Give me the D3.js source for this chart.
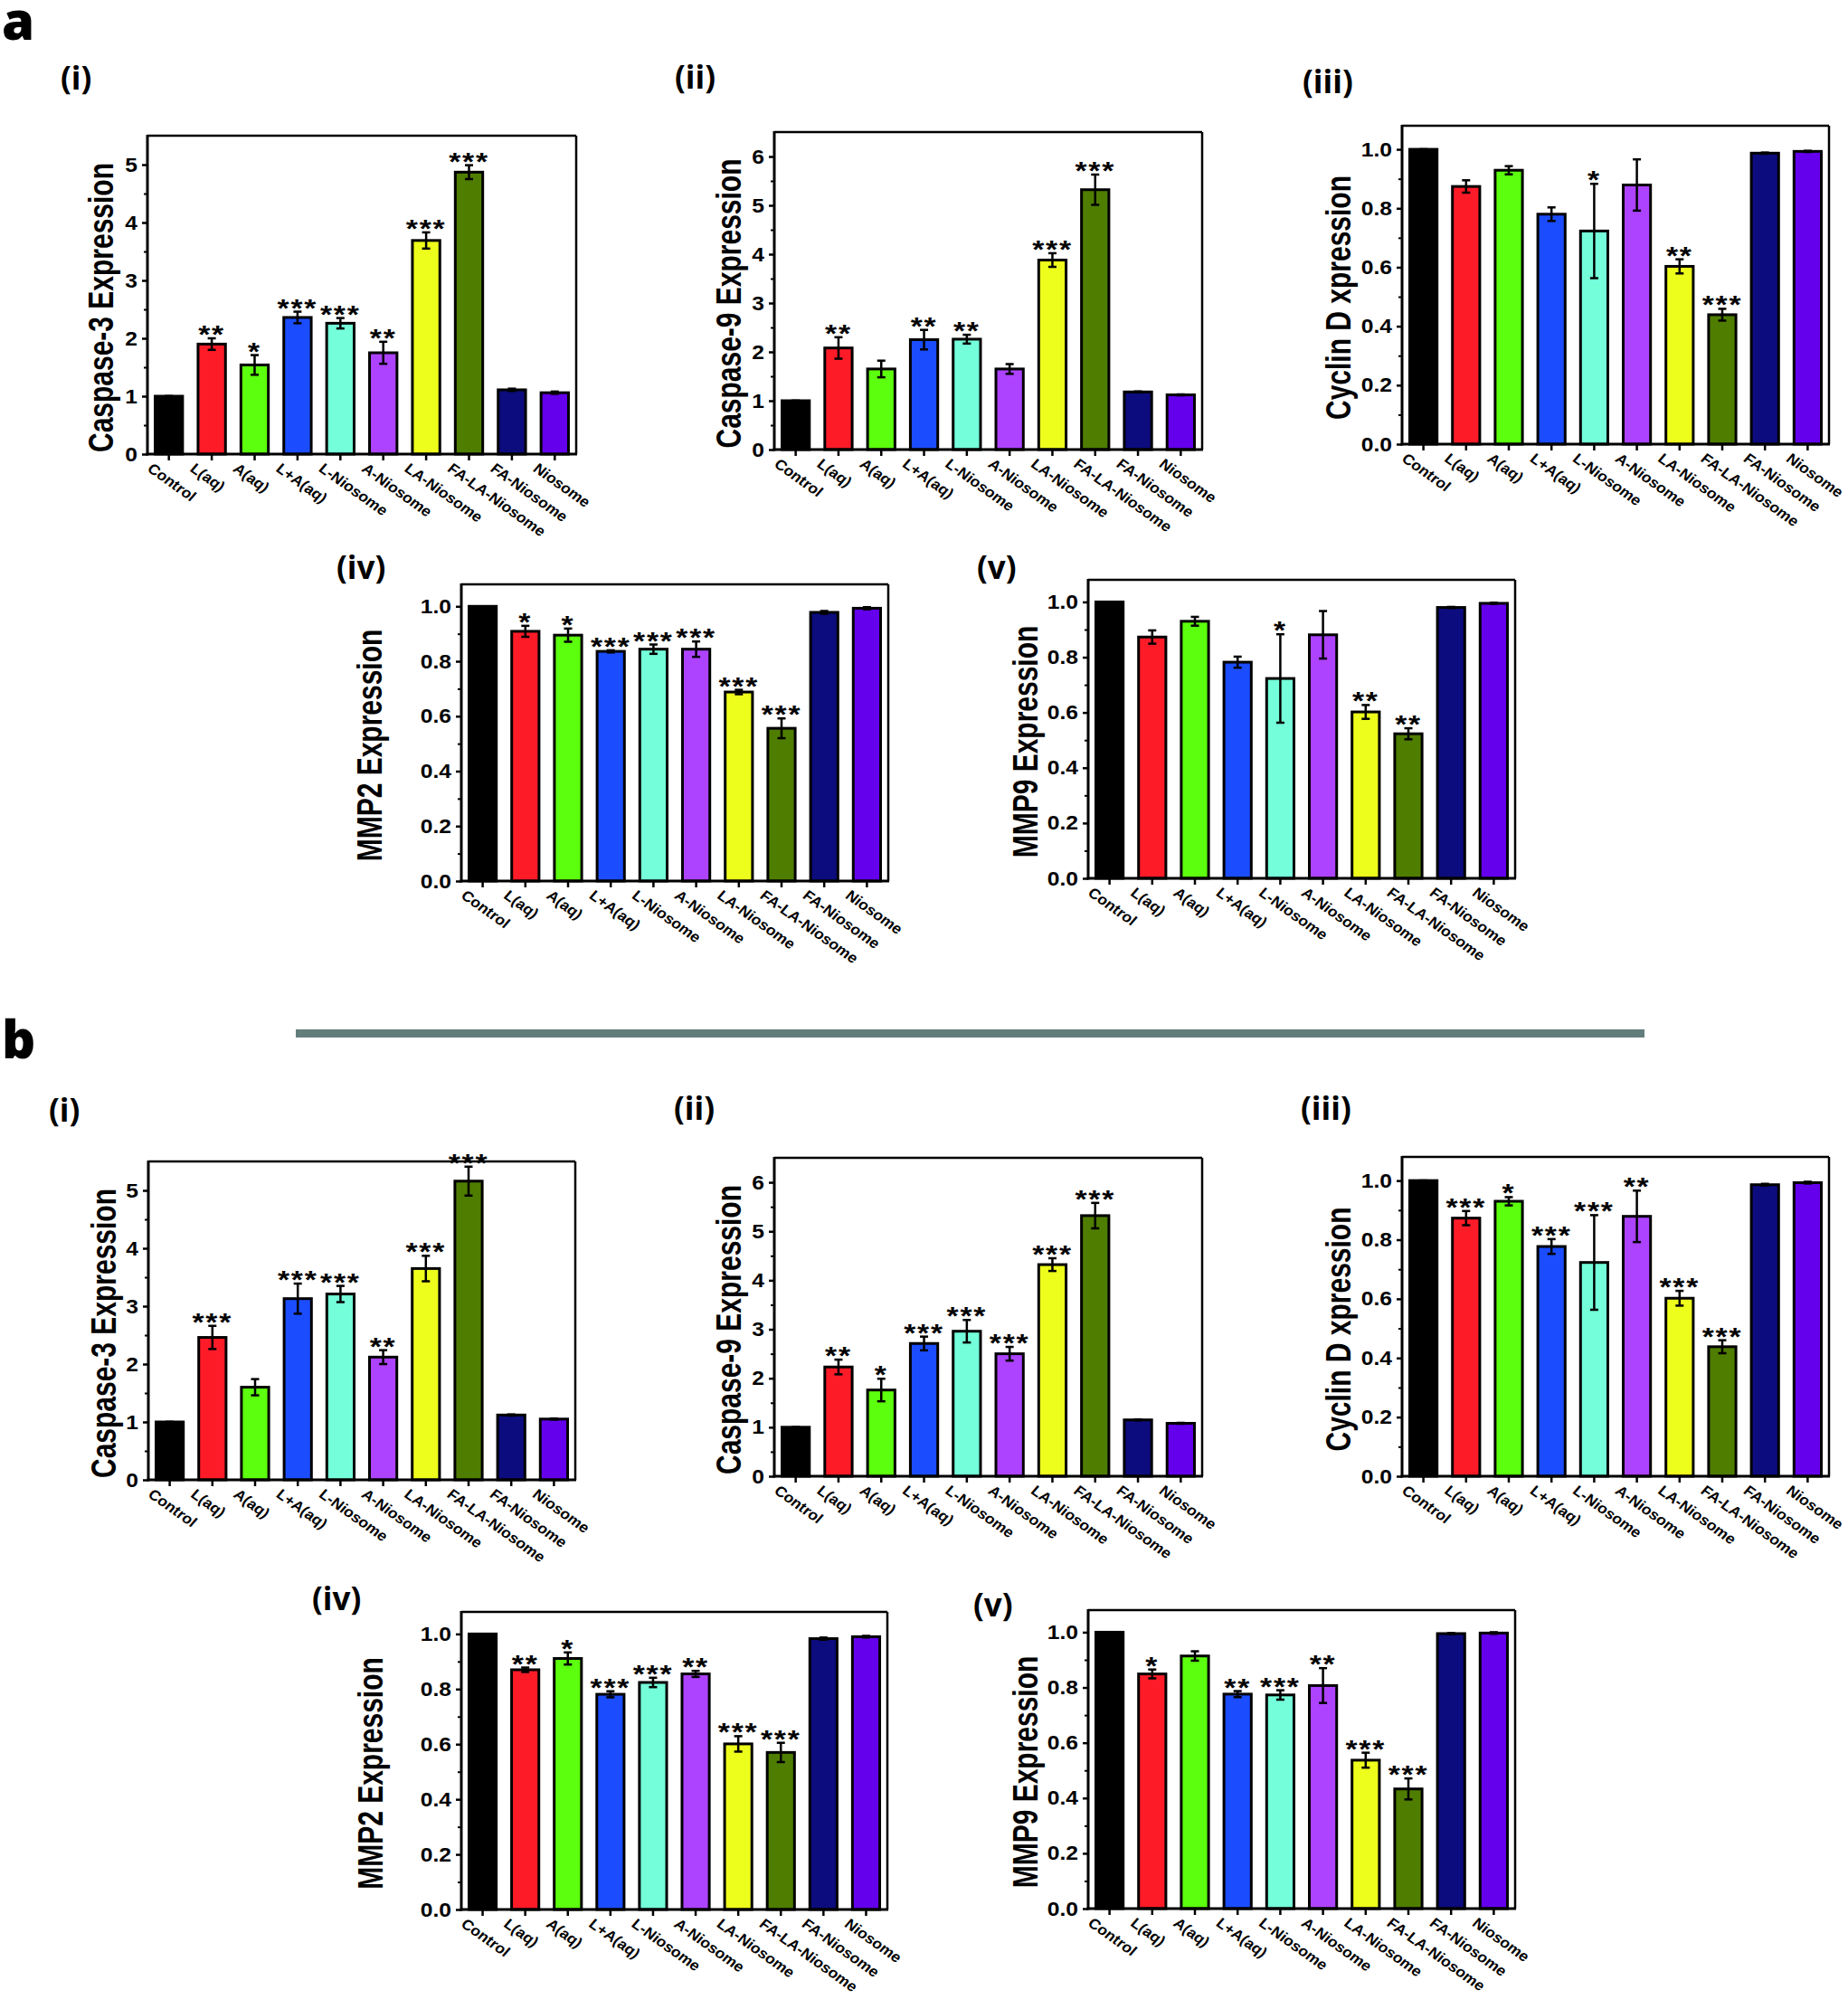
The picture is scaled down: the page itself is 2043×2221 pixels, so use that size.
<!DOCTYPE html>
<html>
<head>
<meta charset="utf-8">
<script src="https://cdn.jsdelivr.net/npm/d3@7"></script>
<style>
  html, body { margin: 0; padding: 0; background: #fff; }
  svg { display: block; }
</style>
</head>
<body>
<script>
// ---------------- DATA ----------------
const categories = ["Control","L(aq)","A(aq)","L+A(aq)","L-Niosome","A-Niosome","LA-Niosome","FA-LA-Niosome","FA-Niosome","Niosome"];
const barColors = ["#000000","#fe1b28","#5cff0d","#1b4dff","#74ffda","#ad43ff","#eefe1c","#4f7d00","#0c0c7e","#6400ec"];

const casp3Ticks = [0,1,2,3,4,5];
const casp3Minor = [0.5,1.5,2.5,3.5,4.5,5.5];
const casp9Ticks = [0,1,2,3,4,5,6];
const casp9Minor = [0.5,1.5,2.5,3.5,4.5,5.5,6.5];
const fracTicks = [0,0.2,0.4,0.6,0.8,1.0];
const fracMinor = [0.1,0.3,0.5,0.7,0.9];

// (a) panels
const aCasp3Mean = [1.00, 1.90, 1.54, 2.36, 2.26, 1.75, 3.69, 4.87, 1.11, 1.06];
const aCasp3Err  = [0, 0.10, 0.17, 0.10, 0.09, 0.19, 0.14, 0.12, 0.02, 0.02];
const aCasp3Sig  = ["", "**", "*", "***", "***", "**", "***", "***", "", ""];

const aCasp9Mean = [1.00, 2.08, 1.65, 2.25, 2.26, 1.65, 3.88, 5.32, 1.18, 1.12];
const aCasp9Err  = [0, 0.22, 0.17, 0.20, 0.09, 0.10, 0.14, 0.31, 0.01, 0.01];
const aCasp9Sig  = ["", "**", "", "**", "**", "", "***", "***", "", ""];

const aCycMean = [1.00, 0.874, 0.929, 0.780, 0.723, 0.879, 0.603, 0.439, 0.987, 0.993];
const aCycErr  = [0, 0.021, 0.014, 0.023, 0.16, 0.087, 0.024, 0.020, 0.002, 0.002];
const aCycSig  = ["", "", "", "", "*", "", "**", "***", "", ""];

const aMmp2Mean = [1.00, 0.909, 0.895, 0.836, 0.844, 0.844, 0.688, 0.556, 0.978, 0.993];
const aMmp2Err  = [0, 0.020, 0.024, 0.004, 0.017, 0.028, 0.008, 0.036, 0.005, 0.004];
const aMmp2Sig  = ["", "*", "*", "***", "***", "***", "***", "***", "", ""];

const aMmp9Mean = [1.00, 0.873, 0.930, 0.782, 0.723, 0.881, 0.602, 0.523, 0.980, 0.995];
const aMmp9Err  = [0, 0.024, 0.016, 0.020, 0.16, 0.086, 0.025, 0.020, 0.002, 0.002];
const aMmp9Sig  = ["", "", "", "", "*", "", "**", "**", "", ""];

// (b) panels
const bCasp3Mean = [1.00, 2.46, 1.60, 3.13, 3.21, 2.12, 3.65, 5.16, 1.12, 1.05];
const bCasp3Err  = [0, 0.20, 0.14, 0.26, 0.14, 0.12, 0.22, 0.25, 0.01, 0.01];
const bCasp3Sig  = ["", "***", "", "***", "***", "**", "***", "***", "", ""];

const bCasp9Mean = [1.00, 2.23, 1.76, 2.71, 2.96, 2.50, 4.32, 5.32, 1.15, 1.08];
const bCasp9Err  = [0, 0.15, 0.23, 0.14, 0.23, 0.14, 0.13, 0.26, 0.01, 0.01];
const bCasp9Sig  = ["", "**", "*", "***", "***", "***", "***", "***", "", ""];

const bCycMean = [1.00, 0.873, 0.930, 0.777, 0.723, 0.879, 0.602, 0.438, 0.986, 0.993];
const bCycErr  = [0, 0.024, 0.014, 0.025, 0.16, 0.087, 0.025, 0.022, 0.003, 0.003];
const bCycSig  = ["", "***", "*", "***", "***", "**", "***", "***", "", ""];

const bMmp2Mean = [1.00, 0.870, 0.911, 0.781, 0.824, 0.855, 0.601, 0.570, 0.983, 0.990];
const bMmp2Err  = [0, 0.008, 0.022, 0.011, 0.017, 0.011, 0.028, 0.035, 0.004, 0.003];
const bMmp2Sig  = ["", "**", "*", "***", "***", "**", "***", "***", "", ""];

const bMmp9Mean = [1.00, 0.849, 0.914, 0.776, 0.773, 0.807, 0.537, 0.433, 0.995, 0.997];
const bMmp9Err  = [0, 0.016, 0.017, 0.011, 0.017, 0.063, 0.027, 0.038, 0.002, 0.003];
const bMmp9Sig  = ["", "*", "", "**", "***", "**", "***", "***", "", ""];

// ---------------- LAYOUT ----------------
const W = 2043, H = 2221;
const svg = d3.select("body").append("svg").attr("width", W).attr("height", H)
  .style("font-family", "'Liberation Sans', Arial, sans-serif");
svg.append("rect").attr("width", W).attr("height", H).attr("fill", "#fff");

const FONT = "'Liberation Sans', Arial, sans-serif";

function drawPanel(p) {
  const g = svg.append("g");
  const x = d3.scaleBand().domain(categories).range([p.x0, p.x1]).paddingInner(0.36).paddingOuter(0.18);
  const y = d3.scaleLinear().domain([0, p.yMax]).range([p.y1, p.y0]);

  // bars
  g.selectAll("rect.bar").data(categories).join("rect").attr("class", "bar")
    .attr("x", d => x(d)).attr("width", x.bandwidth())
    .attr("y", (d, i) => y(p.mean[i])).attr("height", (d, i) => y(0) - y(p.mean[i]))
    .attr("fill", (d, i) => barColors[i]).attr("stroke", "#000").attr("stroke-width", 3);

  // error bars
  const cx = d => x(d) + x.bandwidth() / 2;
  const eb = g.selectAll("g.err").data(categories).join("g").attr("class", "err")
    .attr("stroke", "#000").attr("stroke-width", 2.5);
  eb.append("line").attr("x1", cx).attr("x2", cx)
    .attr("y1", (d, i) => y(p.mean[i] + p.err[i])).attr("y2", (d, i) => y(p.mean[i] - p.err[i]));
  eb.append("line").attr("x1", d => cx(d) - 4.5).attr("x2", d => cx(d) + 4.5)
    .attr("y1", (d, i) => y(p.mean[i] + p.err[i])).attr("y2", (d, i) => y(p.mean[i] + p.err[i]));
  eb.append("line").attr("x1", d => cx(d) - 4.5).attr("x2", d => cx(d) + 4.5)
    .attr("y1", (d, i) => y(p.mean[i] - p.err[i])).attr("y2", (d, i) => y(p.mean[i] - p.err[i]));

  // significance stars
  g.selectAll("text.sig").data(categories).join("text").attr("class", "sig")
    .attr("transform", (d, i) => `translate(${cx(d)},${y(p.mean[i] + p.err[i]) + 5}) scale(1.2,1)`)
    .attr("text-anchor", "middle").attr("font-size", 28).attr("font-weight", "bold")
    .attr("letter-spacing", 1.5)
    .text((d, i) => p.sig[i]);

  // y axis (major)
  const ya = g.append("g").attr("transform", `translate(${p.x0},0)`)
    .call(d3.axisLeft(y).tickValues(p.ticks).tickFormat(p.fmt).tickSize(6).tickSizeOuter(0).tickPadding(4));
  ya.select(".domain").remove();
  ya.selectAll(".tick line").attr("stroke", "#000").attr("stroke-width", 2.5);
  ya.selectAll(".tick text").attr("x", -11 / 1.12).attr("transform", "scale(1.12,1)")
    .attr("font-size", 22).attr("font-weight", "bold").attr("fill", "#000")
    .attr("font-family", FONT);
  // y axis (minor)
  const ym = g.append("g").attr("transform", `translate(${p.x0},0)`)
    .call(d3.axisLeft(y).tickValues(p.minor.filter(v => v < p.yMax)).tickFormat("").tickSize(4).tickSizeOuter(0));
  ym.select(".domain").remove();
  ym.selectAll(".tick line").attr("stroke", "#000").attr("stroke-width", 2);

  // x axis
  const xa = g.append("g").attr("transform", `translate(0,${p.y1})`)
    .call(d3.axisBottom(x).tickSize(7).tickSizeOuter(0).tickPadding(0));
  xa.select(".domain").remove();
  xa.selectAll(".tick line").attr("stroke", "#000").attr("stroke-width", 2.5);
  xa.selectAll(".tick text").attr("x", null).attr("y", null).attr("dy", null)
    .attr("transform", "translate(-25,18) scale(1.1,1) rotate(38)")
    .attr("text-anchor", "start").attr("font-size", 16).attr("font-weight", "bold").attr("fill", "#000")
    .attr("font-family", FONT);

  // frame
  g.append("line").attr("x1", p.x0).attr("x2", p.x1).attr("y1", p.y0).attr("y2", p.y0).attr("stroke", "#000").attr("stroke-width", 2.5);
  g.append("line").attr("x1", p.x1).attr("x2", p.x1).attr("y1", p.y0).attr("y2", p.y1).attr("stroke", "#000").attr("stroke-width", 2.5);
  g.append("line").attr("x1", p.x0).attr("x2", p.x0).attr("y1", p.y0 - 1).attr("y2", p.y1 + 1.5).attr("stroke", "#000").attr("stroke-width", 3);
  g.append("line").attr("x1", p.x0 - 1.5).attr("x2", p.x1 + 1).attr("y1", p.y1).attr("y2", p.y1).attr("stroke", "#000").attr("stroke-width", 3);

  // y title
  g.append("text")
    .attr("transform", `translate(${p.x0 - p.titleOff},${(p.y0 + p.y1) / 2 + 14}) scale(1.28,1) rotate(-90)`)
    .attr("text-anchor", "middle").attr("font-size", 30).attr("font-weight", "bold")
    .text(p.title);

  // panel label
  svg.append("text").attr("x", p.lx).attr("y", p.ly)
    .attr("font-family", "'Open Sans', sans-serif").attr("font-weight", 700).attr("font-size", 35)
    .text(p.label);
}

const intFmt = d3.format("d");
const fracFmt = d3.format(".1f");

const panels = [
  {label:"(i)",   lx:67,   ly:99,   x0:163,  x1:637,  y0:150,  y1:502,  yMax:5.5,  ticks:casp3Ticks, minor:casp3Minor, fmt:intFmt,  title:"Caspase-3 Expression", titleOff:38, mean:aCasp3Mean, err:aCasp3Err, sig:aCasp3Sig},
  {label:"(ii)",  lx:746,  ly:98,   x0:856,  x1:1329, y0:146,  y1:497,  yMax:6.5,  ticks:casp9Ticks, minor:casp9Minor, fmt:intFmt,  title:"Caspase-9 Expression", titleOff:37, mean:aCasp9Mean, err:aCasp9Err, sig:aCasp9Sig},
  {label:"(iii)", lx:1440, ly:103,  x0:1550, x1:2022, y0:139,  y1:491,  yMax:1.08, ticks:fracTicks,  minor:fracMinor,  fmt:fracFmt, title:"Cyclin D xpression",   titleOff:57, mean:aCycMean,   err:aCycErr,   sig:aCycSig},
  {label:"(iv)",  lx:372,  ly:640,  x0:510,  x1:982,  y0:646,  y1:974,  yMax:1.08, ticks:fracTicks,  minor:fracMinor,  fmt:fracFmt, title:"MMP2 Expression",      titleOff:88, mean:aMmp2Mean,  err:aMmp2Err,  sig:aMmp2Sig},
  {label:"(v)",   lx:1080, ly:640,  x0:1203, x1:1675, y0:641,  y1:971,  yMax:1.08, ticks:fracTicks,  minor:fracMinor,  fmt:fracFmt, title:"MMP9 Expression",      titleOff:56, mean:aMmp9Mean,  err:aMmp9Err,  sig:aMmp9Sig},
  {label:"(i)",   lx:54,   ly:1240, x0:164,  x1:636,  y0:1284, y1:1636, yMax:5.5,  ticks:casp3Ticks, minor:casp3Minor, fmt:intFmt,  title:"Caspase-3 Expression", titleOff:36, mean:bCasp3Mean, err:bCasp3Err, sig:bCasp3Sig},
  {label:"(ii)",  lx:745,  ly:1238, x0:856,  x1:1329, y0:1280, y1:1632, yMax:6.5,  ticks:casp9Ticks, minor:casp9Minor, fmt:intFmt,  title:"Caspase-9 Expression", titleOff:37, mean:bCasp9Mean, err:bCasp9Err, sig:bCasp9Sig},
  {label:"(iii)", lx:1438, ly:1238, x0:1550, x1:2022, y0:1279, y1:1632, yMax:1.08, ticks:fracTicks,  minor:fracMinor,  fmt:fracFmt, title:"Cyclin D xpression",   titleOff:57, mean:bCycMean,   err:bCycErr,   sig:bCycSig},
  {label:"(iv)",  lx:345,  ly:1780, x0:510,  x1:981,  y0:1782, y1:2111, yMax:1.08, ticks:fracTicks,  minor:fracMinor,  fmt:fracFmt, title:"MMP2 Expression",      titleOff:87, mean:bMmp2Mean,  err:bMmp2Err,  sig:bMmp2Sig},
  {label:"(v)",   lx:1076, ly:1787, x0:1203, x1:1675, y0:1780, y1:2110, yMax:1.08, ticks:fracTicks,  minor:fracMinor,  fmt:fracFmt, title:"MMP9 Expression",      titleOff:56, mean:bMmp9Mean,  err:bMmp9Err,  sig:bMmp9Sig}
];

panels.forEach(drawPanel);

// section letters and separator
svg.append("text").attr("x", 2).attr("y", 44)
  .attr("font-family", "'Open Sans', sans-serif").attr("font-weight", 800).attr("font-size", 58).text("a");
svg.append("text").attr("x", 2).attr("y", 1170)
  .attr("font-family", "'Open Sans', sans-serif").attr("font-weight", 800).attr("font-size", 58).text("b");
svg.append("rect").attr("x", 327).attr("y", 1138).attr("width", 1491).attr("height", 9).attr("fill", "#627e7c");
</script>
</body>
</html>
